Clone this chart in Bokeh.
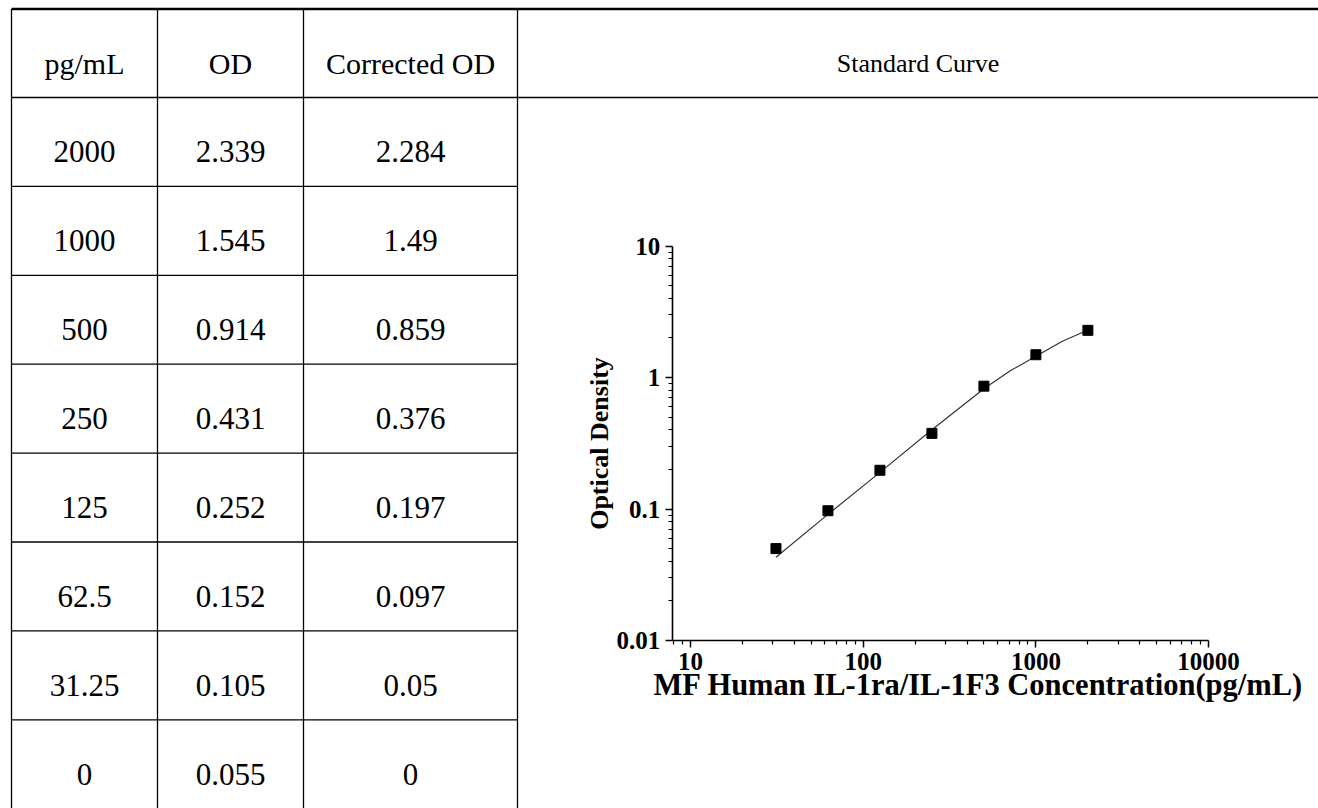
from bokeh.plotting import figure
from bokeh.models import Range1d, FixedTicker, LogScale, LogAxis
from bokeh.core.properties import value
from bokeh.embed import file_html
from bokeh.resources import INLINE

# ---------------- data ----------------
col_headers = ["pg/mL", "OD", "Corrected OD"]
conc_labels = ["2000", "1000", "500", "250", "125", "62.5", "31.25", "0"]
od_labels = ["2.339", "1.545", "0.914", "0.431", "0.252", "0.152", "0.105", "0.055"]
corr_labels = ["2.284", "1.49", "0.859", "0.376", "0.197", "0.097", "0.05", "0"]
panel_title = "Standard Curve"

conc = [2000, 1000, 500, 250, 125, 62.5, 31.25]
corr_od = [2.284, 1.49, 0.859, 0.376, 0.197, 0.097, 0.05]

# fitted curve
curve_x = [31.25, 62.5, 125, 250, 500, 707, 1000, 1414, 2000]
curve_y = [0.043, 0.091, 0.19, 0.40, 0.82, 1.12, 1.45, 1.88, 2.30]

x_ticks = [10, 100, 1000, 10000]
x_tick_labels = ["10", "100", "1000", "10000"]
y_ticks = [0.01, 0.1, 1, 10]
y_tick_labels = ["0.01", "0.1", "1", "10"]
x_label = "MF Human IL-1ra/IL-1F3 Concentration(pg/mL)"
y_label = "Optical Density"

# ---------------- layout constants (page pixels) ----------------
SERIF = "Liberation Serif"
W, H = 1318, 808
col_edges = [11, 157, 303, 517]
top_line = 8.5
header_bottom = 97
row_h = 88.9
LW = 1.3

# chart calibration: pixel of 10 and of 0.01, pixels per decade
X10_PX, X_DEC = 690.0, 172.7
Y001_PX, Y_DEC = 640.0, 131.5
X_MIN, X_MAX = 10 ** (1 - (X10_PX - 671.7) / X_DEC), 10000
Y_MIN, Y_MAX = 0.01, 10

p = figure(width=W, height=H, x_range=Range1d(0, W), y_range=Range1d(H, 0),
           toolbar_location=None, output_backend="svg", min_border=0,
           x_axis_location=None, y_axis_location=None)
p.grid.visible = False
p.outline_line_color = None

# log ranges spanning the whole canvas so that the chart lands at its place
p.extra_x_ranges = {"logx": Range1d(10 ** (1 - X10_PX / X_DEC), 10 ** (1 + (W - X10_PX) / X_DEC))}
p.extra_x_scales = {"logx": LogScale()}
p.extra_y_ranges = {"logy": Range1d(10 ** (-2 - (H - Y001_PX) / Y_DEC), 10 ** (-2 + Y001_PX / Y_DEC))}
p.extra_y_scales = {"logy": LogScale()}

# ---------------- table ----------------
p.segment(x0=col_edges, y0=[top_line] * 4, x1=col_edges, y1=[H] * 4, line_color="black", line_width=LW)
p.segment(x0=[col_edges[0]], y0=[top_line], x1=[W], y1=[top_line], line_color="black", line_width=2.6)
p.segment(x0=[col_edges[0]], y0=[header_bottom], x1=[W], y1=[header_bottom], line_color="black", line_width=LW)
row_lines = [header_bottom + k * row_h for k in range(1, len(conc_labels))]
p.segment(x0=[col_edges[0]] * len(row_lines), y0=row_lines, x1=[col_edges[-1]] * len(row_lines), y1=row_lines,
          line_color="black", line_width=LW)

centers = [(col_edges[i] + col_edges[i + 1]) / 2 for i in range(3)]
p.text(x=centers, y=[63] * 3, text=col_headers, text_align="center", text_baseline="middle",
       text_font=value(SERIF), text_font_size="30px", text_color="black")
row_y = [header_bottom + (k + 0.5) * row_h + 10 for k in range(len(conc_labels))]
for cx, labels in zip(centers, [conc_labels, od_labels, corr_labels]):
    p.text(x=[cx] * len(labels), y=row_y, text=labels, text_align="center", text_baseline="middle",
           text_font=value(SERIF), text_font_size="31px", text_color="black")

p.text(x=[(col_edges[-1] + W) / 2], y=[63], text=[panel_title], text_align="center", text_baseline="middle",
       text_font=value(SERIF), text_font_size="26px", text_color="black")

# ---------------- chart ----------------
p.line(curve_x, curve_y, line_color="#333333", line_width=1.2, x_range_name="logx", y_range_name="logy")
p.scatter(conc, corr_od, marker="square", size=10, fill_color="black", line_color="black",
          x_range_name="logx", y_range_name="logy")

x_minor = [m * 10 ** e for e in (0, 1, 2, 3) for m in range(2, 10) if X_MIN <= m * 10 ** e <= X_MAX]
y_minor = [m * 10 ** e for e in (-2, -1, 0) for m in range(2, 10)]

xax = LogAxis(x_range_name="logx", y_range_name="logy", fixed_location=Y_MIN, bounds=(X_MIN, X_MAX),
              ticker=FixedTicker(ticks=x_ticks, minor_ticks=x_minor))
xax.major_label_overrides = dict(zip(x_ticks, x_tick_labels))
yax = LogAxis(x_range_name="logx", y_range_name="logy", fixed_location=X_MIN, bounds=(Y_MIN, Y_MAX),
              ticker=FixedTicker(ticks=y_ticks, minor_ticks=y_minor))
yax.major_label_overrides = dict(zip(y_ticks, y_tick_labels))

for ax in (xax, yax):
    ax.axis_line_color = "black"
    ax.axis_line_width = 1.6
    ax.major_tick_line_color = "black"
    ax.major_tick_line_width = 1.5
    ax.minor_tick_line_color = "black"
    ax.minor_tick_line_width = 1.2
    ax.major_tick_in = 0
    ax.major_tick_out = 7
    ax.minor_tick_in = 0
    ax.minor_tick_out = 4
    ax.major_label_text_font = SERIF
    ax.major_label_text_font_style = "bold"
    ax.major_label_text_font_size = "25px"
    ax.major_label_text_color = "black"
    ax.major_label_standoff = 5

yax.axis_label = y_label
yax.axis_label_text_font = SERIF
yax.axis_label_text_font_style = "bold"
yax.axis_label_text_font_size = "26px"
yax.axis_label_text_color = "black"
yax.axis_label_standoff = 0

p.add_layout(xax, "below")
p.add_layout(yax, "left")

# x axis title (sits off-centre to the right, as in the original)
p.text(x=[653], y=[684], text=[x_label], text_align="left", text_baseline="middle",
       text_font=value(SERIF), text_font_style="bold", text_font_size="30.5px", text_color="black")

open("out.html", "w").write(file_html(p, INLINE))
